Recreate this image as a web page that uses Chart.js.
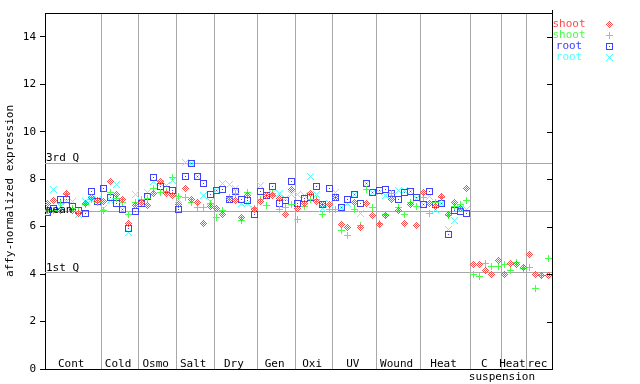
<!DOCTYPE html>
<html><head><meta charset="utf-8">
<script src="https://cdn.jsdelivr.net/npm/chart.js@4/dist/chart.umd.min.js"></script>
<style>html,body{margin:0;padding:0;background:#fff;} #wrap{width:640px;height:384px;position:relative;}</style>
</head><body><div id="wrap"><canvas id="c" width="640" height="384"></canvas></div>
<script>
// ---- data ----
const groups = ['Cont','Cold','Osmo','Salt','Dry','Gen','Oxi','UV','Wound','Heat','C','Heat','rec'];
const groupSizes = [9,6,6,6,7,6,6,7,7,8,5,4,4];
const subLabel = 'suspension';
const seriesNames = ['shoot','shoot','root','root'];
const shootRep1 = [6.96,7.12,6.68,7.41,6.67,6.54,6.96,7.24,7.09,
  7.07,7.89,7.36,7.16,6.15,6.88,
  7.02,6.88,7.41,7.88,7.40,7.30,
  6.95,7.62,7.16,7.02,6.15,6.85,
  6.78,6.50,7.13,7.10,6.40,7.30,6.74,
  7.05,7.30,7.30,7.20,6.50,7.58,
  6.77,6.96,7.38,7.06,6.92,6.95,
  7.24,6.08,5.98,7.02,5.96,6.96,6.46,
  6.08,6.46,7.16,6.67,6.12,6.92,6.03,
  7.44,6.96,6.85,7.27,6.50,7.03,6.78,7.62,
  4.42,4.42,4.14,3.99,4.56,
  3.97,4.46,4.39,4.28,
  4.81,3.97,3.92,3.92];
const shootRep2 = [6.67,6.67,6.99,7.34,6.78,6.64,6.92,7.13,7.02,
  6.68,7.44,7.20,7.00,6.50,7.03,
  7.16,7.20,7.60,7.44,7.50,8.05,
  7.27,7.24,7.02,6.82,6.81,6.96,
  6.40,6.67,7.24,7.41,6.25,7.45,6.78,
  7.16,6.88,7.41,6.74,6.81,6.95,
  6.32,6.85,7.13,7.13,6.50,6.74,
  6.74,5.84,5.64,6.71,6.03,7.58,6.82,
  6.15,6.50,7.41,6.82,6.50,7.02,6.85,
  7.24,6.54,7.02,7.24,6.46,6.85,6.95,7.09,
  3.99,3.90,4.43,4.32,4.32,
  4.39,4.14,4.49,4.25,
  4.28,3.40,3.92,4.64];
const rootRep1 = [6.61,6.78,7.16,7.16,6.85,6.68,6.54,7.47,7.05,
  7.62,7.24,6.99,6.74,5.94,6.62,
  6.99,7.27,8.05,7.69,7.58,7.51,
  6.71,8.09,8.65,8.09,7.80,7.34,
  7.52,7.55,7.13,7.48,7.16,7.09,6.50,
  7.48,7.30,7.67,6.99,7.09,7.88,
  6.99,7.20,7.24,7.67,6.92,7.62,
  7.24,6.82,7.16,7.37,6.99,7.80,7.45,
  7.52,7.58,7.41,7.13,7.45,7.48,7.24,
  6.92,7.48,6.92,6.99,5.66,6.67,6.64,6.57,
  null,null,null,null,null,
  null,null,null,null,
  null,null,null,null];
const rootRep2 = [6.60,7.55,6.85,7.06,7.05,6.50,7.06,7.13,7.16,
  6.78,7.10,7.76,6.74,5.76,7.34,
  7.06,7.44,7.90,7.80,7.72,7.95,
  7.13,8.72,8.65,8.09,7.30,7.06,
  7.52,7.83,7.76,7.62,6.96,6.96,6.71,
  7.73,7.34,7.41,7.41,7.20,7.37,
  7.37,7.30,8.10,7.37,6.78,6.99,
  7.44,6.82,6.99,7.37,6.54,7.80,7.45,
  7.44,7.30,7.34,7.52,7.52,7.48,7.20,
  6.92,7.27,6.74,6.99,5.89,6.25,6.78,6.74,
  null,null,null,null,null,
  null,null,null,null,
  null,null,null,null];
const yTicks = [0,2,4,6,8,10,12,14];
const refNames = ['3rd Q','mean','1st Q'];
const refValues = [8.68,6.65,4.08];
const yTitle = 'affy-normalized expression';

// ---- styles ----
const colors = ['#ff4848','#48ff48','#4040ff','#50ffff'];
const gridColor = '#a8a8a8';
const FONT = '11px "DejaVu Sans Mono"';
const patterns = [
 ['...x...','..x.x..','.x.x.x.','x.x.x.x','.x.x.x.','..x.x..','...x...'],
 ['...x...','...x...','...x...','xxxxxxx','...x...','...x...','...x...'],
 ['xxxxxxx','x.....x','x.....x','x..x..x','x.....x','x.....x','xxxxxxx'],
 ['x.....x','.x...x.','..x.x..','...x...','..x.x..','.x...x.','x.....x']
];
function mk(pat,color){
  const c=document.createElement('canvas'); c.width=pat[0].length; c.height=pat.length;
  const g=c.getContext('2d'); g.fillStyle=color;
  pat.forEach((row,y)=>[...row].forEach((ch,x)=>{ if(ch==='x') g.fillRect(x,y,1,1); }));
  return c;
}
const markers = patterns.map((p,i)=>mk(p,colors[i]));

const totalSlots = groupSizes.reduce((a,b)=>a+b,0);
const bounds = []; let acc=0; const starts=[];
groupSizes.forEach(s=>{ starts.push(acc); acc+=s; bounds.push(acc); });

const series = [shootRep1, shootRep2, rootRep1, rootRep2];
const datasets = series.map((arr,k)=>({
  label: seriesNames[k],
  data: arr.map((v,i)=> v==null?null:{x:i+0.4,y:v}).filter(p=>p),
  pointStyle: markers[k],
  pointRadius: 4,
  showLine:false
}));

const snap = {
  id:'snap',
  beforeDatasetsDraw(chart){
    chart.data.datasets.forEach((d,i)=>{
      chart.getDatasetMeta(i).data.forEach(el=>{
        el.x = Math.floor(el.x)+0.5; el.y = Math.floor(el.y)+0.5;
      });
    });
  }
};

const deco = {
  id:'deco',
  beforeDatasetsDraw(chart){
    const {ctx, chartArea:a, scales:{y}} = chart;
    ctx.save();
    ctx.strokeStyle = gridColor; ctx.lineWidth=1;
    refValues.forEach(v=>{
      const py = Math.round(y.getPixelForValue(v))+0.5;
      ctx.beginPath(); ctx.moveTo(a.left,py); ctx.lineTo(a.right,py); ctx.stroke();
    });
    ctx.restore();
  },
  afterDatasetsDraw(chart){
    const {ctx, chartArea:a, scales:{x,y}} = chart;
    ctx.save();
    ctx.font = FONT; ctx.fillStyle='#000'; ctx.textAlign='left'; ctx.textBaseline='alphabetic';
    refValues.forEach((v,i)=>{
      const py = y.getPixelForValue(v);
      const off = refNames[i]==='mean' ? 2 : -1.5;
      ctx.fillText(refNames[i], a.left+1, py+off);
    });
    ctx.strokeStyle='#000'; ctx.lineWidth=1;
    ctx.beginPath();
    ctx.moveTo(a.left, a.top+0.5); ctx.lineTo(a.right+0.5, a.top+0.5);
    ctx.moveTo(a.right+0.5, a.top-3); ctx.lineTo(a.right+0.5, a.bottom);
    ctx.stroke();
    ctx.beginPath();
    yTicks.forEach(v=>{ const py=Math.round(y.getPixelForValue(v))+0.5; ctx.moveTo(a.right-5,py); ctx.lineTo(a.right,py); });
    ctx.stroke();
    ctx.textAlign='center';
    groups.forEach((g,i)=>{
      const cx = x.getPixelForValue(starts[i]+groupSizes[i]/2);
      ctx.fillText(g, cx-2, a.bottom-2);
    });
    ctx.fillText(subLabel, x.getPixelForValue(bounds[10]), a.bottom+11);
    seriesNames.forEach((n,i)=>{
      const ly = 24 + i*11;
      ctx.fillStyle = colors[i]; ctx.textBaseline='middle'; ctx.textAlign='center';
      ctx.fillText(n, 569, ly);
      ctx.drawImage(markers[i], 606, ly-3);
    });
    ctx.restore();
  }
};

new Chart(document.getElementById('c'), {
  type:'scatter',
  data:{datasets},
  options:{
    responsive:false, animation:false, devicePixelRatio:1,
    layout:{padding:{left:0,right:88,top:13,bottom:0}},
    plugins:{legend:{display:false}, tooltip:{enabled:false}},
    scales:{
      x:{type:'linear', min:0, max:totalSlots,
        afterBuildTicks(s){ s.ticks = bounds.map(v=>({value:v})); },
        afterFit(s){ s.height = 15; },
        ticks:{display:false},
        grid:{color:gridColor, drawTicks:false, drawOnChartArea:true},
        border:{display:true, color:'#000'}
      },
      y:{type:'linear', min:0, max:15,
        afterBuildTicks(s){ s.ticks = yTicks.map(v=>({value:v})); },
        afterFit(s){ s.width = 45; },
        ticks:{font:{family:'DejaVu Sans Mono', size:11}, color:'#000', padding:4},
        grid:{drawOnChartArea:false, drawTicks:true, tickLength:5, color:'#000'},
        border:{display:true, color:'#000'},
        title:{display:true, text:yTitle, color:'#000', font:{family:'DejaVu Sans Mono', size:11}, padding:{top:4,bottom:0}}
      }
    }
  },
  plugins:[snap, deco]
});
</script></body></html>
